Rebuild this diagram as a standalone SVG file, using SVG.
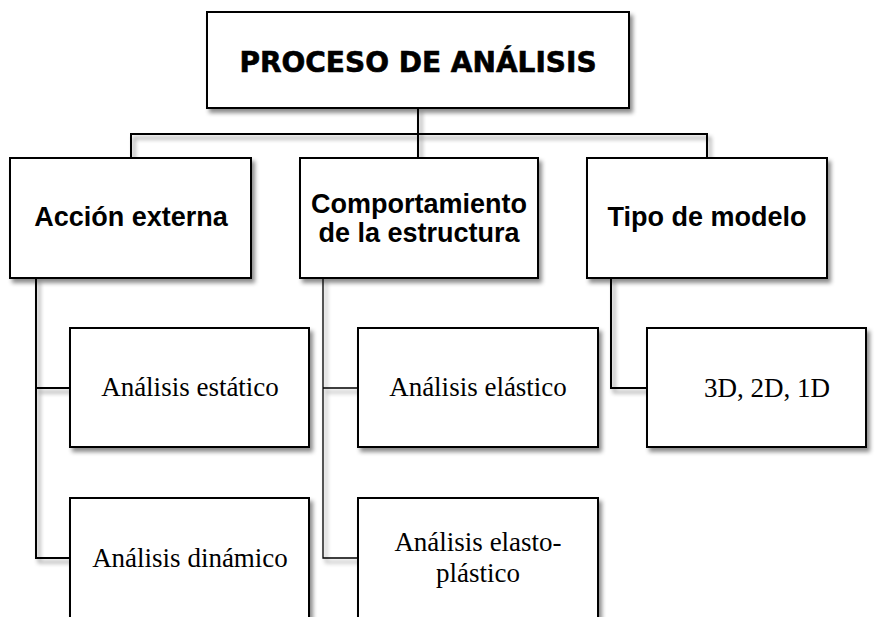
<svg xmlns="http://www.w3.org/2000/svg" width="877" height="617" viewBox="0 0 877 617">
<defs>
<filter id="sh" x="-10%" y="-10%" width="130%" height="130%">
<feDropShadow dx="3" dy="4" stdDeviation="2" flood-color="#000" flood-opacity="0.45"/>
</filter>
<style>
.box{fill:#fff;stroke:#000;stroke-width:2;filter:url(#sh)}
.ln{fill:none;stroke:#000;stroke-width:2;filter:url(#sh)}
.t1{font-family:"DejaVu Sans",sans-serif;font-weight:bold;font-size:28px;text-anchor:middle;fill:#000;stroke:#000;stroke-width:0.6}
.t2{font-family:"Liberation Sans",Arial,sans-serif;font-weight:bold;font-size:27px;text-anchor:middle;fill:#000}
.t3{font-family:"Liberation Serif","Times New Roman",serif;font-size:27px;text-anchor:middle;fill:#000}
</style>
</defs>
<rect width="877" height="617" fill="#fff"/>
<g id="connectors">
<path class="ln" d="M418 108 V158 M131 158 V134 H707 V158"/>
<path class="ln" d="M36 278 V558 H70 M36 388 H70"/>
<path class="ln" style="stroke-width:1.3" d="M323 278 V558 H358 M323 388 H358"/>
<path class="ln" d="M611 278 V388 H647"/>
</g>
<g id="n-root">
<rect class="box" x="207" y="12" width="422" height="96"/>
<text class="t1" x="418" y="72">PROCESO DE ANÁLISIS</text>
</g>
<g id="n-accion">
<rect class="box" x="10" y="158" width="241" height="120"/>
<text class="t2" x="131" y="226">Acción externa</text>
</g>
<g id="n-comport">
<rect class="box" x="300" y="158" width="238" height="120"/>
<text class="t2" x="419" y="213">Comportamiento</text>
<text class="t2" x="419" y="242">de la estructura</text>
</g>
<g id="n-tipo">
<rect class="box" x="587" y="158" width="240" height="120"/>
<text class="t2" x="707" y="226">Tipo de modelo</text>
</g>
<g id="n-estatico">
<rect class="box" x="70" y="328" width="239" height="119"/>
<text class="t3" x="190" y="396">Análisis estático</text>
</g>
<g id="n-dinamico">
<rect class="box" x="70" y="498" width="239" height="125"/>
<text class="t3" x="190" y="567">Análisis dinámico</text>
</g>
<g id="n-elastico">
<rect class="box" x="358" y="328" width="240" height="119"/>
<text class="t3" x="478" y="396">Análisis elástico</text>
</g>
<g id="n-elastoplastico">
<rect class="box" x="358" y="498" width="240" height="125"/>
<text class="t3" x="478" y="551">Análisis elasto-</text>
<text class="t3" x="478" y="582">plástico</text>
</g>
<g id="n-modelo">
<rect class="box" x="647" y="328" width="219" height="119"/>
<text class="t3" x="767" y="397">3D, 2D, 1D</text>
</g>
</svg>
